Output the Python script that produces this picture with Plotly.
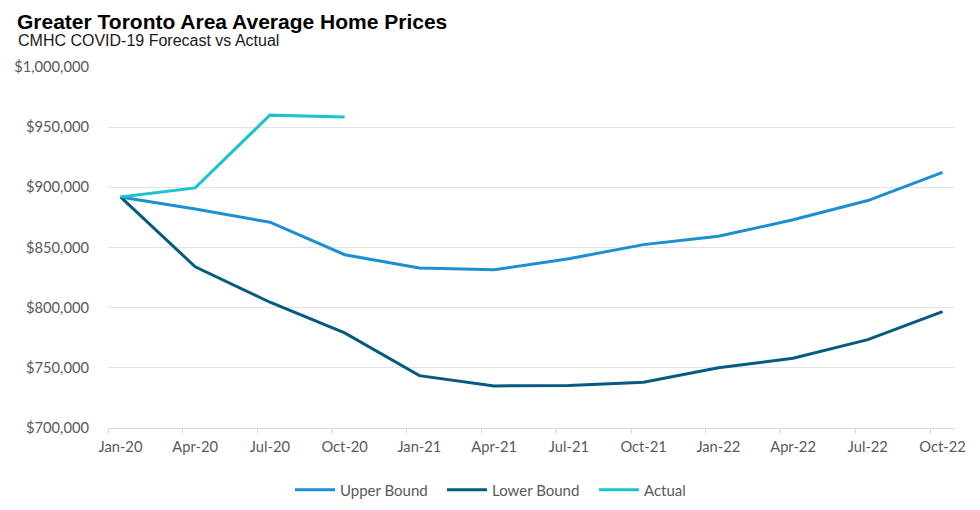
import plotly.graph_objects as go

# Quarterly data (months counted from Jan-20)
quarter_labels = ["Jan-20", "Apr-20", "Jul-20", "Oct-20", "Jan-21", "Apr-21",
                  "Jul-21", "Oct-21", "Jan-22", "Apr-22", "Jul-22", "Oct-22"]
quarter_month_index = [0, 3, 6, 9, 12, 15, 18, 21, 24, 27, 30, 33]
upper_bound = [892000, 882000, 871000, 844000, 833000, 831500,
               840700, 852400, 859300, 873000, 889000, 912500]
lower_bound = [892000, 834000, 804500, 779000, 743500, 735000,
               735400, 738000, 750000, 758000, 773400, 796700]
actual = [892000, 899500, 960000, 958500]
y_tick_values = [700000, 750000, 800000, 850000, 900000, 950000, 1000000]
y_tick_labels = ["$700,000", "$750,000", "$800,000", "$850,000",
                 "$900,000", "$950,000", "$1,000,000"]

c_upper = "#1b8fd1"
c_lower = "#065a80"
c_actual = "#1ac3cd"

# page body has an 8px margin, so the figure is sized to fit the window
W, H = 972, 502

fig = go.Figure()
fig.add_trace(go.Scatter(x=quarter_month_index, y=upper_bound, mode="lines",
                         name="Upper Bound", line=dict(color=c_upper, width=3)))
fig.add_trace(go.Scatter(x=quarter_month_index, y=lower_bound, mode="lines",
                         name="Lower Bound", line=dict(color=c_lower, width=3)))
fig.add_trace(go.Scatter(x=quarter_month_index[:len(actual)], y=actual, mode="lines",
                         name="Actual", line=dict(color=c_actual, width=3)))

axis_font = dict(family="Lato, Open Sans, sans-serif", size=14.7, color="#595959")

fig.update_layout(
    width=W, height=H,
    margin=dict(l=100, r=25, t=59, b=82, autoexpand=False),
    paper_bgcolor="white", plot_bgcolor="white",
    showlegend=True,
    legend=dict(orientation="h", xref="container", yref="container",
                x=282 / W, xanchor="left", y=1 - 482 / H, yanchor="middle",
                font=dict(family="Lato, Open Sans, sans-serif", size=15, color="#595959"),
                entrywidth=97, entrywidthmode="pixels",
                itemwidth=40, tracegroupgap=0),
    xaxis=dict(
        range=[-0.5, 33.5], automargin=False,
        tickmode="array", tickvals=quarter_month_index, ticktext=quarter_labels,
        ticks="", showgrid=False, zeroline=False,
        showline=True, linecolor="#d9d9d9", linewidth=1,
        tickfont=axis_font, ticklabelstandoff=5,
        minor=dict(tickmode="array",
                   tickvals=[m - 0.5 for m in quarter_month_index],
                   ticks="outside", ticklen=5, tickcolor="#d9d9d9", tickwidth=1,
                   showgrid=False),
    ),
    yaxis=dict(
        range=[700000, 1000000], automargin=False,
        tickmode="array", tickvals=y_tick_values, ticktext=y_tick_labels,
        showgrid=True, gridcolor="#e3e3e3", gridwidth=1,
        zeroline=False, showline=False, ticks="",
        tickfont=axis_font, ticklabelstandoff=18,
    ),
    annotations=[
        dict(text="<b>Greater Toronto Area Average Home Prices</b>",
             xref="paper", yref="paper", x=-92 / 847, y=(420 - 0.5) / 361,
             xanchor="left", yanchor="top", showarrow=False, borderpad=0,
             font=dict(family="Liberation Sans, Arial, sans-serif", size=21, color="#000000")),
        dict(text="CMHC COVID-19 Forecast vs Actual",
             xref="paper", yref="paper", x=-92 / 847, y=(420 - 32) / 361,
             xanchor="left", yanchor="middle", showarrow=False,
             font=dict(family="Liberation Sans, Arial, sans-serif", size=16, color="#1a1a1a")),
    ],
)

fig.write_html("out.html")
